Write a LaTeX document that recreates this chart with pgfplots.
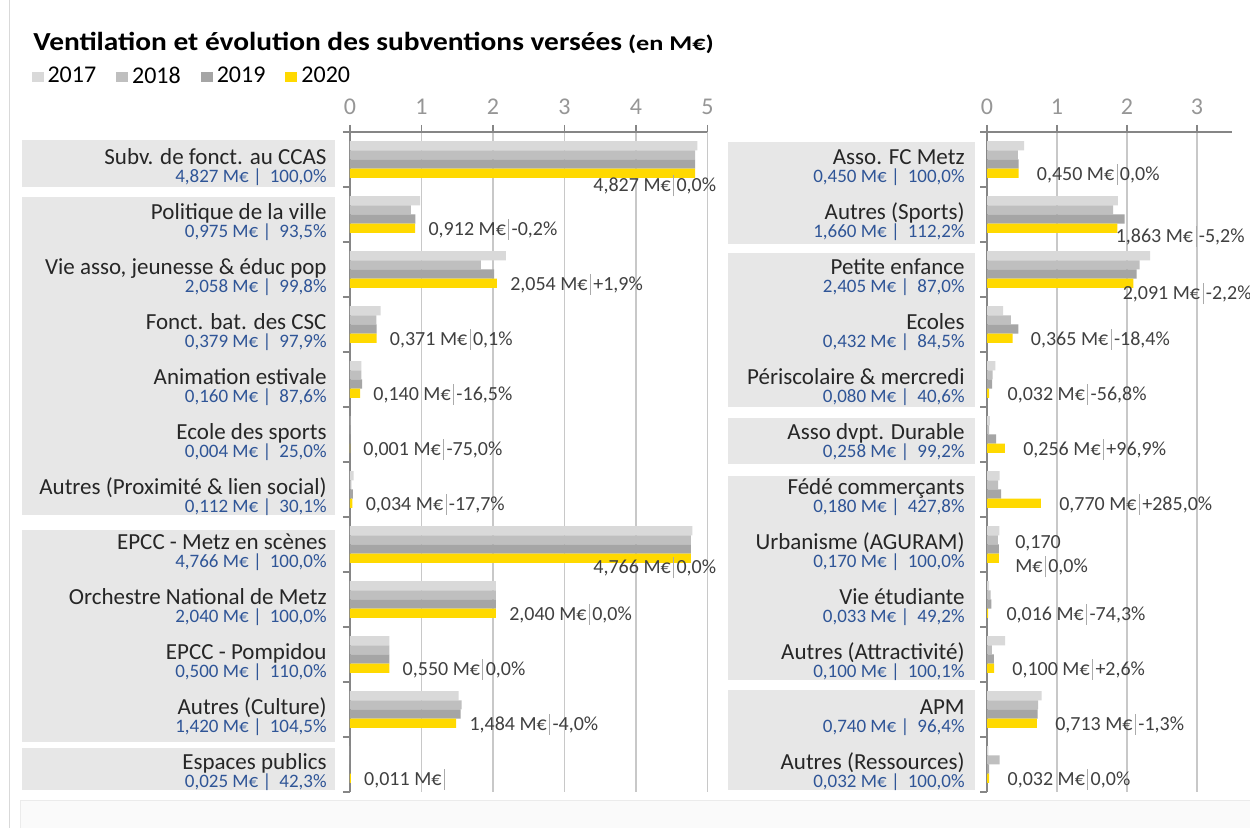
\documentclass[border=0pt]{standalone}
\usepackage{pgfplots}
\pgfplotsset{compat=1.18}
\usepackage{pgfplotstable}
\usepackage{fontspec}
\setmainfont{Carlito}

\definecolor{c17}{RGB}{217,217,217}
\definecolor{c18}{RGB}{191,191,191}
\definecolor{c19}{RGB}{165,165,165}
\definecolor{c20}{RGB}{255,217,0}
\definecolor{bluec}{RGB}{47,85,151}
\definecolor{namec}{RGB}{38,38,38}
\definecolor{annoc}{RGB}{64,64,64}
\definecolor{tickc}{RGB}{150,150,150}
\definecolor{axisc}{RGB}{134,134,134}
\definecolor{gridc}{RGB}{200,200,200}
\definecolor{boxc}{RGB}{231,231,231}
\definecolor{sepc}{RGB}{170,170,170}

% k = category (0 = top), values in M EUR
\pgfplotstableread{
k  y17   y18   y19   y20
0  4.86  4.827 4.827 4.827
1  0.98  0.85  0.914 0.912
2  2.18  1.83  2.016 2.054
3  0.43  0.37  0.371 0.371
4  0.16  0.16  0.168 0.140
5  0.005 0.004 0.004 0.001
6  0.05  0.02  0.041 0.034
7  4.79  4.766 4.766 4.766
8  2.04  2.04  2.04  2.04
9  0.55  0.55  0.55  0.55
10 1.52  1.56  1.546 1.484
11 0     0     0     0.011
}\leftdata

\pgfplotstableread{
k  y17   y18   y19   y20
0  0.53  0.44  0.450 0.450
1  1.87  1.80  1.965 1.863
2  2.33  2.18  2.138 2.091
3  0.23  0.34  0.447 0.365
4  0.12  0.08  0.074 0.032
5  0.04  0.03  0.130 0.256
6  0.18  0.16  0.200 0.770
7  0.175 0.155 0.170 0.170
8  0.03  0.05  0.062 0.016
9  0.26  0.07  0.097 0.100
10 0.78  0.73  0.722 0.713
11 0.02  0.18  0.032 0.032
}\rightdata

\newcommand{\sep}{\hspace{1.2pt}{\color{sepc}\rule[-0.22em]{0.5pt}{1.05em}}\hspace{1.2pt}}
% blue line: amount | rate (pad short rates so the bars line up)
\newcommand{\blu}[3]{#1 M€ |\hspace{4pt}#2\hspace{#3}}
\newcommand{\lab}[4]{%
  \node[anchor=base east,inner sep=0pt,text=namec,font=\fontsize{11.5}{13}\selectfont] at (#1,{165+55*#2}) {#3};
  \node[anchor=base east,inner sep=0pt,text=bluec,font=\fontsize{9.5}{11}\selectfont] at (#1,{183+55*#2}) {#4};}

\tikzset{anot/.style={font=\fontsize{10}{12}\selectfont, text=annoc, inner sep=0pt}}

\pgfplotsset{
  panel/.style={
    scale only axis, height=330pt, anchor=north west,
    xbar=0pt, bar width=4.6pt,
    y dir=reverse, ymin=-0.5, ymax=11.5,
    ytick={-0.5,0.5,...,11.5}, yticklabels={},
    axis x line*=top, axis y line*=left,
    axis line style={axisc, line width=0.6pt},
    tick style={axisc, line width=0.6pt},
    tick align=outside, major tick length=3.5pt,
    xmajorgrids, grid style={gridc, line width=0.6pt},
    ticklabel style={font=\fontsize{12}{14}\selectfont, text=tickc},
    xticklabel style={yshift=1.5pt},
    /pgf/number format/assume math mode=true,
    clip=false,
  },
  b17/.style={fill=c17, draw=none, bar shift=6.9pt},
  b18/.style={fill=c18, draw=none, bar shift=2.3pt},
  b19/.style={fill=c19, draw=none, bar shift=-2.3pt},
  b20/.style={fill=c20, draw=none, bar shift=-6.9pt},
}

\begin{document}
\begin{tikzpicture}
\useasboundingbox (0,0) rectangle (625pt,414pt);
\fill[white] (0,0) rectangle (625pt,414pt);
\begin{scope}[x=0.5pt,y=-0.5pt,yshift=414pt]
  \draw[c17, line width=0.5pt] (9,0) -- (9,828);
  \filldraw[fill={rgb,255:red,250;green,250;blue,250}, draw={rgb,255:red,235;green,235;blue,235}] (20,800) rectangle (1262,840);
  % label boxes
  \fill[boxc] (22,140) rectangle (335,187);
  \fill[boxc] (22,197) rectangle (335,515);
  \fill[boxc] (22,530) rectangle (335,742);
  \fill[boxc] (22,748) rectangle (335,790);
  \fill[boxc] (728,142) rectangle (975,244);
  \fill[boxc] (728,253) rectangle (975,407);
  \fill[boxc] (728,418) rectangle (975,464);
  \fill[boxc] (728,476) rectangle (975,680);
  \fill[boxc] (728,690) rectangle (975,790);
  % title
  \node[anchor=base west, inner sep=0pt, text=black] at (33,51)
    {\bfseries\scalebox{1.13}[1]{\fontsize{13}{16}\selectfont Ventilation et évolution des subventions versées}\hspace{3pt}\scalebox{1.25}[1]{\fontsize{10.5}{12}\selectfont (en M€)}};
  % left labels
  \lab{327}{0}{Subv. de fonct. au CCAS}{\blu{4,827}{100,0\%}{0pt}}
  \lab{327}{1}{Politique de la ville}{\blu{0,975}{93,5\%}{3.5pt}}
  \lab{327}{2}{Vie asso, jeunesse \& éduc pop}{\blu{2,058}{99,8\%}{3.5pt}}
  \lab{327}{3}{Fonct. bat. des CSC}{\blu{0,379}{97,9\%}{3.5pt}}
  \lab{327}{4}{Animation estivale}{\blu{0,160}{87,6\%}{3.5pt}}
  \lab{327}{5}{Ecole des sports}{\blu{0,004}{25,0\%}{3.5pt}}
  \lab{327}{6}{Autres (Proximité \& lien social)}{\blu{0,112}{30,1\%}{3.5pt}}
  \lab{327}{7}{EPCC - Metz en scènes}{\blu{4,766}{100,0\%}{0pt}}
  \lab{327}{8}{Orchestre National de Metz}{\blu{2,040}{100,0\%}{0pt}}
  \lab{327}{9}{EPCC - Pompidou}{\blu{0,500}{110,0\%}{0pt}}
  \lab{327}{10}{Autres (Culture)}{\blu{1,420}{104,5\%}{0pt}}
  \lab{327}{11}{Espaces publics}{\blu{0,025}{42,3\%}{3.5pt}}
  % right labels
  \lab{965}{0}{Asso. FC Metz}{\blu{0,450}{100,0\%}{0pt}}
  \lab{965}{1}{Autres (Sports)}{\blu{1,660}{112,2\%}{0pt}}
  \lab{965}{2}{Petite enfance}{\blu{2,405}{87,0\%}{3.5pt}}
  \lab{965}{3}{Ecoles}{\blu{0,432}{84,5\%}{3.5pt}}
  \lab{965}{4}{Périscolaire \& mercredi}{\blu{0,080}{40,6\%}{3.5pt}}
  \lab{965}{5}{Asso dvpt. Durable}{\blu{0,258}{99,2\%}{3.5pt}}
  \lab{965}{6}{Fédé commerçants}{\blu{0,180}{427,8\%}{0pt}}
  \lab{965}{7}{Urbanisme (AGURAM)}{\blu{0,170}{100,0\%}{0pt}}
  \lab{965}{8}{Vie étudiante}{\blu{0,033}{49,2\%}{3.5pt}}
  \lab{965}{9}{Autres (Attractivité)}{\blu{0,100}{100,1\%}{0pt}}
  \lab{965}{10}{APM}{\blu{0,740}{96,4\%}{3.5pt}}
  \lab{965}{11}{Autres (Ressources)}{\blu{0,032}{100,0\%}{0pt}}
\end{scope}

\begin{axis}[panel, at={(175pt,348pt)}, width=178.75pt,
  xmin=0, xmax=5, xtick={0,1,2,3,4,5},
  legend columns=4,
  legend style={at={(axis description cs:-0.892,1.084)}, anchor=west, draw=none, fill=none,
    font=\fontsize{12}{14}\selectfont, inner sep=0pt,
    /tikz/every even column/.append style={column sep=8pt}},
  legend image code/.code={\fill[#1] (0pt,-2.5pt) rectangle (6pt,2.5pt);},
]
\addplot[b17] table[x=y17, y=k] {\leftdata};
\addplot[b18] table[x=y18, y=k] {\leftdata};
\addplot[b19] table[x=y19, y=k] {\leftdata};
\addplot[b20] table[x=y20, y=k] {\leftdata};
\legend{2017,2018,2019,2020}
\node[anot, anchor=east, xshift=4.5pt] at (axis cs:5,0.48) {4,827 M€\sep0,0\%};
\node[anot, anchor=west, xshift=6.5pt] at (axis cs:0.912,1.27) {0,912 M€\sep-0,2\%};
\node[anot, anchor=west, xshift=6.5pt] at (axis cs:2.054,2.27) {2,054 M€\sep+1,9\%};
\node[anot, anchor=west, xshift=6.5pt] at (axis cs:0.371,3.27) {0,371 M€\sep0,1\%};
\node[anot, anchor=west, xshift=6.5pt] at (axis cs:0.140,4.27) {0,140 M€\sep-16,5\%};
\node[anot, anchor=west, xshift=6.5pt] at (axis cs:0.001,5.27) {0,001 M€\sep-75,0\%};
\node[anot, anchor=west, xshift=6.5pt] at (axis cs:0.034,6.27) {0,034 M€\sep-17,7\%};
\node[anot, anchor=east, xshift=4.5pt] at (axis cs:5,7.42) {4,766 M€\sep0,0\%};
\node[anot, anchor=west, xshift=6.5pt] at (axis cs:2.040,8.27) {2,040 M€\sep0,0\%};
\node[anot, anchor=west, xshift=6.5pt] at (axis cs:0.550,9.27) {0,550 M€\sep0,0\%};
\node[anot, anchor=west, xshift=6.5pt] at (axis cs:1.484,10.27) {1,484 M€\sep-4,0\%};
\node[anot, anchor=west, xshift=6.5pt] at (axis cs:0.011,11.27) {0,011 M€\sep};
\end{axis}

\begin{axis}[panel, at={(493.5pt,348pt)}, width=122.5pt,
  xmin=0, xmax=3.5, xtick={0,1,2,3},
]
\addplot[b17] table[x=y17, y=k] {\rightdata};
\addplot[b18] table[x=y18, y=k] {\rightdata};
\addplot[b19] table[x=y19, y=k] {\rightdata};
\addplot[b20] table[x=y20, y=k] {\rightdata};
\node[anot, anchor=west, xshift=9pt] at (axis cs:0.450,0.27) {0,450 M€\sep0,0\%};
\node[anot, anchor=east, xshift=6.5pt] at (axis cs:3.5,1.4) {1,863 M€\sep-5,2\%};
\node[anot, anchor=east, xshift=10pt] at (axis cs:3.5,2.44) {2,091 M€\sep-2,2\%};
\node[anot, anchor=west, xshift=9pt] at (axis cs:0.365,3.27) {0,365 M€\sep-18,4\%};
\node[anot, anchor=west, xshift=9pt] at (axis cs:0.032,4.27) {0,032 M€\sep-56,8\%};
\node[anot, anchor=west, xshift=9pt] at (axis cs:0.256,5.27) {0,256 M€\sep+96,9\%};
\node[anot, anchor=west, xshift=9pt] at (axis cs:0.770,6.27) {0,770 M€\sep+285,0\%};
\node[anot, anchor=west, xshift=8pt, align=left] at (axis cs:0.170,7.22) {0,170\\M€\sep0,0\%};
\node[anot, anchor=west, xshift=9pt] at (axis cs:0.016,8.27) {0,016 M€\sep-74,3\%};
\node[anot, anchor=west, xshift=9pt] at (axis cs:0.100,9.27) {0,100 M€\sep+2,6\%};
\node[anot, anchor=west, xshift=9pt] at (axis cs:0.713,10.27) {0,713 M€\sep-1,3\%};
\node[anot, anchor=west, xshift=9pt] at (axis cs:0.032,11.27) {0,032 M€\sep0,0\%};
\end{axis}
\end{tikzpicture}
\end{document}
